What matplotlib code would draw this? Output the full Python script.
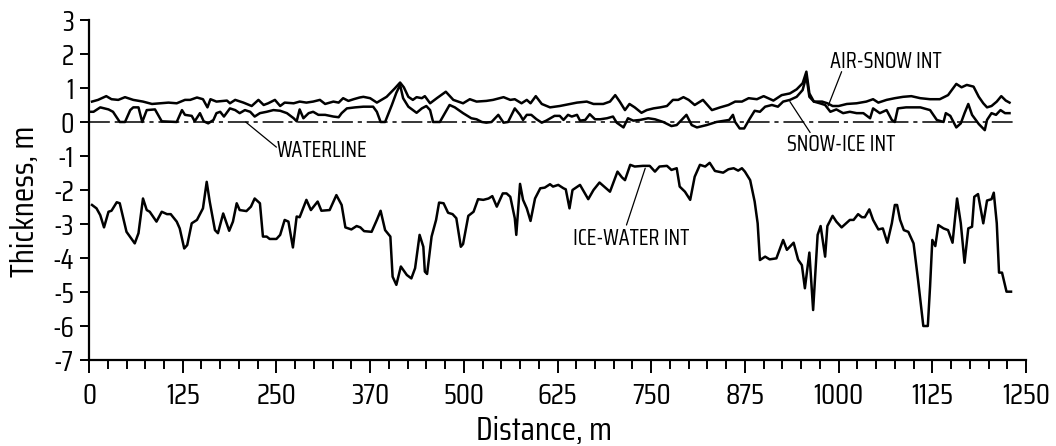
import matplotlib
matplotlib.use("Agg")
import matplotlib.pyplot as plt
from matplotlib.ticker import MultipleLocator
from matplotlib import font_manager

names = {f.name for f in font_manager.fontManager.ttflist}
narrow_pref = ['Saira Condensed', 'Roboto Condensed', 'DejaVu Sans']
chosen = [n for n in narrow_pref if n in names]
plt.rcParams['font.family'] = chosen[:1] + ['DejaVu Sans']
plt.rcParams['axes.unicode_minus'] = False
plt.rcParams['lines.scale_dashes'] = False

# ---------------- data ----------------
air_snow_x = [4, 12, 23, 30, 39, 48, 59, 72, 84, 95, 106, 117, 128, 135, 144, 152, 158, 162, 170,
              184, 188, 195, 206, 217, 226, 233, 239, 248, 255, 261, 273, 281, 290, 299, 308, 315,
              326, 333, 339, 346, 353, 361, 366, 375, 384, 390, 397, 408, 415, 420, 426, 432, 437,
              444, 448, 455, 464, 476, 486, 499, 508, 517, 530, 539, 553, 562, 568, 577, 584, 589,
              596, 604, 615, 628, 642, 651, 664, 673, 686, 695, 702, 708, 715, 721, 728, 737, 744,
              753, 762, 771, 779, 786, 793, 800, 808, 819, 831, 842, 853, 862, 871, 880, 891, 900,
              913, 924, 935, 944, 952, 957, 961, 967, 978, 985, 992, 1000, 1011, 1024, 1037, 1046,
              1053, 1064, 1075, 1086, 1097, 1109, 1122, 1135, 1146, 1157, 1164, 1171, 1180, 1187,
              1193, 1198, 1204, 1211, 1217, 1223, 1228]
air_snow_y = [0.60, 0.65, 0.76, 0.67, 0.65, 0.73, 0.65, 0.60, 0.53, 0.55, 0.57, 0.55, 0.65, 0.65,
              0.72, 0.67, 0.43, 0.67, 0.60, 0.63, 0.55, 0.65, 0.57, 0.47, 0.65, 0.50, 0.55, 0.65,
              0.47, 0.57, 0.55, 0.60, 0.57, 0.60, 0.65, 0.53, 0.60, 0.57, 0.70, 0.62, 0.67, 0.72,
              0.74, 0.70, 0.57, 0.65, 0.74, 0.99, 1.16, 1.02, 0.74, 0.65, 0.73, 0.70, 0.76, 0.55,
              0.70, 0.89, 0.65, 0.55, 0.67, 0.60, 0.62, 0.65, 0.73, 0.65, 0.67, 0.55, 0.65, 0.55,
              0.76, 0.53, 0.43, 0.47, 0.53, 0.57, 0.60, 0.53, 0.53, 0.60, 0.79, 0.60, 0.35, 0.53,
              0.43, 0.27, 0.35, 0.40, 0.43, 0.47, 0.65, 0.65, 0.73, 0.65, 0.50, 0.65, 0.35, 0.43,
              0.50, 0.60, 0.60, 0.70, 0.67, 0.76, 0.63, 0.79, 0.84, 0.96, 1.14, 1.48, 0.84, 0.60,
              0.60, 0.55, 0.47, 0.47, 0.53, 0.55, 0.60, 0.67, 0.57, 0.65, 0.70, 0.74, 0.76, 0.70,
              0.67, 0.67, 0.79, 1.12, 1.02, 1.09, 1.04, 0.74, 0.55, 0.43, 0.47, 0.60, 0.76, 0.63,
              0.57]

snow_ice_x = [2, 6, 15, 26, 32, 41, 48, 55, 59, 66, 71, 77, 88, 97, 117, 124, 128, 137, 141, 148,
              153, 159, 166, 170, 175, 180, 188, 195, 201, 208, 215, 221, 228, 237, 246, 255, 264,
              273, 277, 281, 286, 293, 299, 306, 315, 326, 333, 337, 344, 355, 366, 379, 384, 389,
              395, 404, 410, 415, 419, 426, 432, 437, 444, 450, 455, 459, 468, 475, 481, 488, 499,
              510, 517, 524, 530, 537, 546, 553, 559, 568, 575, 579, 584, 590, 597, 604, 610, 621,
              628, 633, 639, 644, 651, 655, 662, 668, 675, 682, 691, 699, 704, 713, 719, 726, 735,
              746, 755, 766, 777, 784, 797, 804, 811, 824, 837, 854, 859, 862, 868, 874, 881, 888,
              895, 902, 911, 919, 926, 935, 944, 952, 957, 961, 967, 975, 982, 989, 997, 1006,
              1015, 1024, 1033, 1042, 1046, 1055, 1064, 1071, 1075, 1079, 1090, 1109, 1122, 1131,
              1140, 1143, 1149, 1157, 1163, 1168, 1173, 1178, 1187, 1195, 1198, 1204, 1210, 1216,
              1222, 1228]
snow_ice_y = [0.30, 0.30, 0.43, 0.37, 0.30, 0.00, 0.00, 0.35, 0.43, 0.43, 0.00, 0.35, 0.37, 0.02,
              0.00, 0.35, 0.21, 0.18, 0.02, 0.26, 0.02, -0.04, 0.06, 0.26, 0.30, 0.16, 0.40, 0.35,
              0.26, 0.35, 0.30, 0.16, 0.26, 0.30, 0.35, 0.33, 0.26, 0.11, 0.02, 0.37, 0.11, 0.26,
              0.30, 0.21, 0.21, 0.16, 0.14, 0.26, 0.40, 0.43, 0.45, 0.45, 0.30, 0.00, 0.00, 0.50,
              0.86, 1.09, 0.70, 0.45, 0.35, 0.27, 0.40, 0.47, 0.35, 0.00, 0.00, 0.27, 0.50, 0.43,
              0.26, 0.11, 0.08, 0.00, -0.02, 0.00, 0.21, -0.02, 0.00, 0.40, 0.21, 0.06, 0.21, 0.21,
              0.08, -0.02, 0.04, 0.18, 0.18, 0.06, 0.21, 0.16, 0.21, 0.04, 0.06, 0.23, 0.08, 0.08,
              0.11, 0.16, -0.02, -0.16, 0.11, 0.04, 0.06, 0.11, 0.08, 0.00, -0.12, -0.09, 0.21,
              -0.09, -0.16, -0.09, 0.00, 0.06, 0.21, 0.00, -0.19, -0.19, 0.08, 0.33, 0.30, 0.45,
              0.50, 0.45, 0.60, 0.65, 0.74, 0.94, 1.35, 0.74, 0.60, 0.55, 0.50, 0.30, 0.37, 0.26,
              0.30, 0.26, 0.26, 0.11, 0.40, 0.26, 0.35, 0.06, 0.00, 0.40, 0.43, 0.43, 0.35, 0.06,
              0.00, 0.26, 0.18, -0.16, -0.04, 0.26, 0.53, 0.21, -0.06, -0.24, 0.06, 0.26, 0.21,
              0.35, 0.26, 0.26]

ice_water_x = [4, 10, 15, 20, 26, 30, 37, 41, 50, 61, 66, 72, 77, 81, 90, 97, 104, 109, 117, 121,
               127, 131, 137, 144, 152, 157, 161, 168, 172, 179, 187, 192, 197, 201, 210, 216, 221,
               228, 232, 237, 241, 250, 255, 261, 266, 272, 277, 281, 290, 296, 305, 310, 321, 330,
               337, 342, 350, 357, 362, 367, 377, 384, 389, 395, 402, 405, 410, 416, 424, 430, 435,
               441, 446, 448, 451, 457, 463, 467, 473, 479, 485, 490, 496, 499, 506, 513, 519, 526,
               533, 538, 544, 552, 557, 562, 568, 570, 575, 579, 584, 589, 595, 602, 608, 615, 619,
               626, 633, 636, 641, 645, 655, 666, 673, 681, 695, 705, 711, 715, 722, 728, 739, 748,
               755, 761, 771, 777, 784, 788, 795, 802, 808, 815, 822, 828, 835, 846, 853, 860, 866,
               871, 875, 882, 888, 892, 895, 902, 908, 917, 926, 931, 940, 946, 951, 955, 961, 966,
               972, 976, 982, 985, 992, 997, 1004, 1015, 1020, 1026, 1031, 1035, 1041, 1046, 1053,
               1059, 1065, 1071, 1075, 1078, 1082, 1087, 1093, 1100, 1106, 1113, 1119, 1122, 1125,
               1129, 1133, 1140, 1146, 1152, 1158, 1163, 1168, 1173, 1178, 1181, 1186, 1193, 1198,
               1204, 1207, 1211, 1214, 1218, 1224, 1230]
ice_water_y = [-2.44, -2.54, -2.74, -3.10, -2.64, -2.61, -2.36, -2.39, -3.23, -3.57, -3.27, -2.25,
               -2.59, -2.64, -2.93, -2.64, -2.71, -2.71, -2.93, -3.13, -3.72, -3.62, -2.98, -2.88,
               -2.54, -1.76, -2.34, -3.18, -3.27, -2.69, -3.20, -2.93, -2.39, -2.59, -2.62, -2.49,
               -2.25, -2.39, -3.37, -3.37, -3.44, -3.44, -3.32, -2.88, -2.93, -3.69, -2.78, -2.80,
               -2.29, -2.59, -2.34, -2.61, -2.59, -2.15, -2.44, -3.10, -3.16, -3.06, -3.10, -3.21,
               -3.23, -2.88, -2.61, -3.18, -3.37, -4.55, -4.79, -4.25, -4.50, -4.60, -4.30, -3.32,
               -3.67, -4.40, -4.47, -3.37, -2.88, -2.37, -2.39, -2.67, -2.71, -2.83, -3.67, -3.59,
               -2.76, -2.64, -2.27, -2.29, -2.25, -2.18, -2.49, -2.10, -2.10, -2.20, -2.83, -3.32,
               -1.82, -2.29, -2.54, -2.91, -2.25, -1.95, -1.93, -1.83, -1.90, -1.85, -1.95, -1.98,
               -2.54, -2.00, -1.85, -2.27, -2.00, -1.78, -2.05, -1.46, -1.63, -1.71, -1.26, -1.31,
               -1.29, -1.29, -1.46, -1.31, -1.29, -1.41, -1.36, -1.90, -2.05, -2.29, -1.61, -1.26,
               -1.31, -1.20, -1.44, -1.49, -1.39, -1.36, -1.43, -1.36, -1.46, -1.71, -2.34, -2.98,
               -4.06, -3.96, -4.04, -4.01, -3.47, -3.76, -3.55, -4.05, -4.21, -4.89, -3.84, -5.53,
               -3.32, -3.06, -3.96, -3.06, -2.76, -2.93, -3.10, -2.88, -2.88, -2.71, -2.80, -2.80,
               -2.57, -2.88, -3.16, -3.13, -3.55, -2.98, -2.44, -2.44, -2.88, -3.18, -3.23, -3.57,
               -4.65, -6.00, -6.00, -4.84, -3.47, -3.65, -3.03, -3.13, -3.18, -3.55, -2.25, -2.98,
               -4.14, -3.13, -3.08, -2.20, -2.12, -2.98, -2.31, -2.27, -2.08, -2.98, -4.43, -4.43,
               -4.99, -4.99]

waterline_level = 0.0
x_ticks = [0, 125, 250, 375, 500, 625, 750, 875, 1000, 1125, 1250]
x_tick_labels = ['0', '125', '250', '370', '500', '625', '750', '875', '1000', '1125', '1250']
y_ticks = [3, 2, 1, 0, -1, -2, -3, -4, -5, -6, -7]
y_tick_labels = ['3', '2', '1', '0', '-1', '-2', '-3', '-4', '-5', '-6', '-7']

# ---------------- figure ----------------
fig = plt.figure(figsize=(10.56, 4.46), dpi=100)
ax = fig.add_axes([0.0843, 0.1928, 0.8873, 0.7624])

lw = 1.8
ax.plot(air_snow_x, air_snow_y, color='black', lw=lw, solid_joinstyle='round')
ax.plot(snow_ice_x, snow_ice_y, color='black', lw=lw, solid_joinstyle='round')
ax.plot(ice_water_x, ice_water_y, color='black', lw=lw, solid_joinstyle='round')
ax.axhline(waterline_level, xmin=0, xmax=0.988, color='black', lw=1.1,
           dashes=(15, 3.5, 3, 3.5))

ax.set_xlim(0, 1250)
ax.set_ylim(-7, 3)
ax.set_xticks(x_ticks)
ax.set_xticklabels(x_tick_labels, fontsize=21)
ax.set_yticks(y_ticks)
ax.set_yticklabels(y_tick_labels, fontsize=20)
ax.xaxis.set_minor_locator(MultipleLocator(25))
ax.tick_params(axis='x', which='major', length=9.5, width=1.4, direction='out', pad=6.5)
ax.tick_params(axis='x', which='minor', length=6.5, width=1.4, direction='out')
ax.tick_params(axis='y', which='major', length=6.5, width=1.4, direction='out', pad=4.5)
for s in ['top', 'right']:
    ax.spines[s].set_visible(False)
for s in ['left', 'bottom']:
    ax.spines[s].set_linewidth(1.6)

ax.set_xlabel('Distance, m', fontsize=24)
ax.set_ylabel('Thickness, m', fontsize=24)
ax.xaxis.set_label_coords(0.4856, -0.164)
ax.yaxis.set_label_coords(-0.052, 0.466)

# annotations
lead = dict(arrowstyle='-', lw=0.9, color='black', shrinkA=0, shrinkB=0)
ax.annotate('', xy=(209, 0), xytext=(250, -0.74), arrowprops=lead)
ax.text(250, -0.84, 'WATERLINE', fontsize=16, va='center', ha='left')

ax.annotate('', xy=(986, 0.47), xytext=(1004, 1.48), arrowprops=lead)
ax.text(989, 1.79, 'AIR-SNOW INT', fontsize=16, va='center', ha='left')

ax.annotate('', xy=(935, 0.60), xytext=(962, -0.31), arrowprops=lead)
ax.text(931, -0.67, 'SNOW-ICE INT', fontsize=16, va='center', ha='left')

ax.annotate('', xy=(742, -1.36), xytext=(717, -3.03), arrowprops=lead)
ax.text(646, -3.42, 'ICE-WATER INT', fontsize=16, va='center', ha='left')

fig.savefig('out.png', dpi=100)
